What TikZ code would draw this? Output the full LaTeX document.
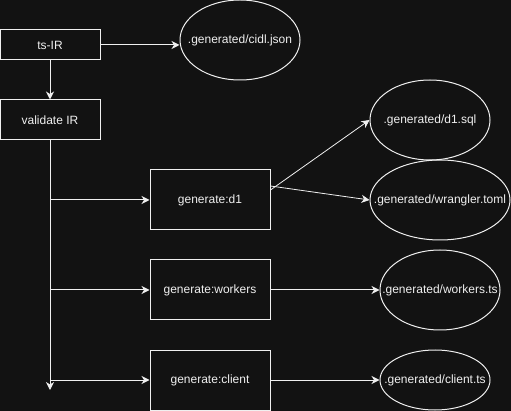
\documentclass[tikz,border=0pt]{standalone}
\usepackage{fontspec}
\setmainfont{Liberation Sans}
\usetikzlibrary{shapes.geometric,arrows.meta,calc}
\definecolor{bg}{HTML}{121212}
\definecolor{fg}{HTML}{F0F0F0}
\newcommand{\zw}[1]{\makebox[0pt]{#1}}
\begin{document}
\begin{tikzpicture}[x=1pt,y=-1pt,
  box/.style={draw=fg,line width=1pt,rectangle,inner sep=0pt,text=fg,font=\fontsize{12}{14}\selectfont},
  oval/.style={draw=fg,line width=1pt,ellipse,inner sep=0pt,text=fg,font=\fontsize{12}{14}\selectfont},
  conn/.style={draw=fg,line width=1pt,-{Stealth[length=8pt,width=8pt,inset=2.5pt]}},
  plain/.style={draw=fg,line width=1pt}]
\fill[bg] (0,0) rectangle (511,411);
\useasboundingbox (0,0) rectangle (511,411);
\node[box,minimum width=100pt,minimum height=30pt] (tsir) at (50,45) {ts-IR};
\node[box,minimum width=100pt,minimum height=40pt] (val) at (50,120) {validate IR};
\node[box,minimum width=120pt,minimum height=60pt] (gd1) at (210,200) {generate:d1};
\node[box,minimum width=120pt,minimum height=60pt] (gw) at (210,290) {generate:workers};
\node[box,minimum width=120pt,minimum height=60pt] (gc) at (210,380) {generate:client};
\node[oval,minimum width=120pt,minimum height=80pt] (cidl) at (240,40) {\zw{.generated/cidl.json}};
\node[oval,minimum width=120pt,minimum height=80pt] (sql) at (430,120) {\zw{.generated/d1.sql}};
\node[oval,minimum width=140pt,minimum height=80pt] (wr) at (440,200) {\zw{.generated/wrangler.toml}};
\node[oval,minimum width=120pt,minimum height=80pt] (wts) at (440,290) {\zw{.generated/workers.ts}};
\node[oval,minimum width=110pt,minimum height=60pt] (cts) at (435,380) {\zw{.generated/client.ts}};
\coordinate (vend) at (50,390);
\draw[conn] (tsir.east) -- (tsir.east -| cidl.west);
\draw[conn] (tsir.south) -- (val.north);
\draw[conn] (val.south) -- (vend);
\draw[conn] (val.south |- gd1.west) -- (gd1.west);
\draw[conn] (val.south |- gw.west) -- (gw.west);
\draw[conn] (val.south |- gc.west) -- (gc.west);
\draw[conn,line width=0.8pt] ([yshift=10pt]gd1.east) -- (sql.west);
\draw[conn,line width=0.8pt] ([yshift=14pt]gd1.east) -- (wr.west);
\draw[conn] (gw.east) -- (wts.west);
\draw[conn] (gc.east) -- (cts.west);
\end{tikzpicture}
\end{document}
